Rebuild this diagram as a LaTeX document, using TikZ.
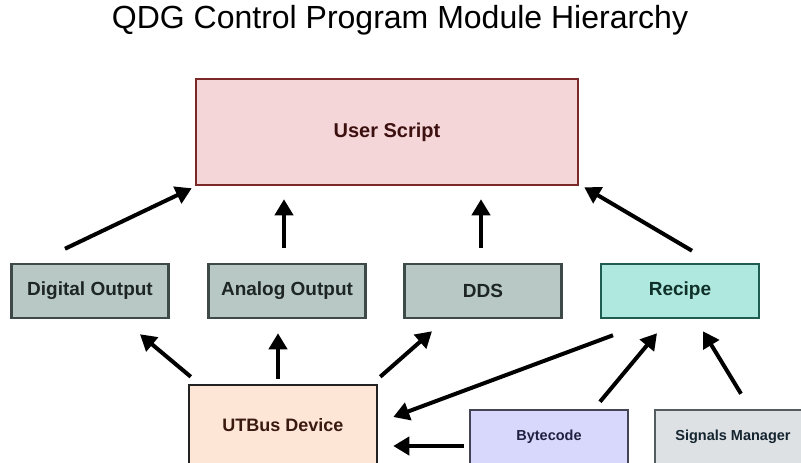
\documentclass[tikz,border=0pt]{standalone}
\usepackage{fontspec}
\setmainfont{Liberation Sans}
\usepackage{tikz}
\usetikzlibrary{arrows.meta, positioning, calc}

\definecolor{usfill}{HTML}{F4D6D8}
\definecolor{usline}{HTML}{7A2828}
\definecolor{ustext}{HTML}{3D1010}
\definecolor{hwfill}{HTML}{B8C8C4}
\definecolor{hwline}{HTML}{3E4A48}
\definecolor{hwtext}{HTML}{1E2624}
\definecolor{rcfill}{HTML}{AEE8DE}
\definecolor{rcline}{HTML}{1F5C52}
\definecolor{rctext}{HTML}{10302A}
\definecolor{utfill}{HTML}{FEE6D6}
\definecolor{utline}{HTML}{222222}
\definecolor{uttext}{HTML}{3A1A10}
\definecolor{bcfill}{HTML}{D8D8FC}
\definecolor{bcline}{HTML}{444455}
\definecolor{bctext}{HTML}{202040}
\definecolor{smfill}{HTML}{DDE1E4}
\definecolor{smline}{HTML}{555C60}
\definecolor{smtext}{HTML}{152530}

\begin{document}
\begin{tikzpicture}[x=1pt, y=-1pt,
    box/.style={draw, line width=2.5pt, inner sep=0pt, font=\bfseries},
    arr/.style={-{Triangle[length=16pt, width=18pt]}, line width=4pt, black}]
\clip (0,0) rectangle (801,463);
\fill[white] (0,0) rectangle (801,463);

% Title
\node[font=\fontsize{32}{37}\selectfont] (title) at (400,20) {QDG Control Program Module Hierarchy};

% Top layer
\node[box, fill=usfill, draw=usline, text=ustext, minimum width=382pt, minimum height=106pt,
    font=\bfseries\fontsize{20}{24}\selectfont] (us) at (387,132) {User Script};

% Middle layer
\node[box, fill=hwfill, draw=hwline, text=hwtext, minimum width=157pt, minimum height=54pt,
    font=\bfseries\fontsize{19}{22}\selectfont] (do) at (90,291) {Digital Output};
\node[box, fill=hwfill, draw=hwline, text=hwtext, minimum width=157pt, minimum height=54pt,
    font=\bfseries\fontsize{19}{22}\selectfont] (ao) at (287,291) {Analog Output};
\node[box, fill=hwfill, draw=hwline, text=hwtext, minimum width=157pt, minimum height=54pt,
    font=\bfseries\fontsize{19}{22}\selectfont] (dds) at (483,291) {DDS};
\node[box, fill=rcfill, draw=rcline, text=rctext, minimum width=158pt, minimum height=54pt,
    font=\bfseries\fontsize{19}{22}\selectfont] (rc) at (680,291) {Recipe};

% Bottom layer
\node[box, fill=utfill, draw=utline, text=uttext, minimum width=188pt, minimum height=80pt,
    font=\bfseries\fontsize{18}{21}\selectfont] (ut) at (283,425) {UTBus Device};
\node[box, fill=bcfill, draw=bcline, text=bctext, minimum width=158pt, minimum height=54pt,
    font=\bfseries\fontsize{14.5}{17}\selectfont] (bc) at (549,437) {Bytecode};
\node[box, fill=smfill, draw=smline, text=smtext, minimum width=156pt, minimum height=54pt,
    font=\bfseries\fontsize{14.5}{17}\selectfont] (sm) at (733,437) {Signals Manager};

% Dependencies
\draw[arr] ([shift={(-25,-14)}]do.north) -- ([shift={(-3,2)}]us.south west);
\draw[arr, shorten <=15pt, shorten >=13pt] ([xshift=-3pt]ao.north) -- ([xshift=-3pt]ao.north |- us.south);
\draw[arr, shorten <=15pt, shorten >=13pt] ([xshift=-2pt]dds.north) -- ([xshift=-2pt]dds.north |- us.south);
\draw[arr] ([shift={(12,-12)}]rc.north) -- ([shift={(5,1)}]us.south east);

\draw[arr] ([shift={(3,-7)}]ut.north west) -- ([shift={(50,15)}]do.south);
\draw[arr, shorten <=5pt, shorten >=14pt] ([xshift=-5pt]ut.north) -- ([xshift=-5pt]ut.north |- ao.south);
\draw[arr] ([shift={(2,-7)}]ut.north east) -- ([shift={(-51,12)}]dds.south);
\draw[arr] ([shift={(-67,16)}]rc.south) -- ([shift={(15,-8)}]ut.east);
\draw[arr] ([shift={(-5,9)}]bc.west) -- ([shift={(15,21)}]ut.east);
\draw[arr] ([shift={(51,-7)}]bc.north) -- ([shift={(-23,14)}]rc.south);
\draw[arr] ([shift={(8,-15)}]sm.north) -- ([shift={(23,12)}]rc.south);
\end{tikzpicture}
\end{document}
